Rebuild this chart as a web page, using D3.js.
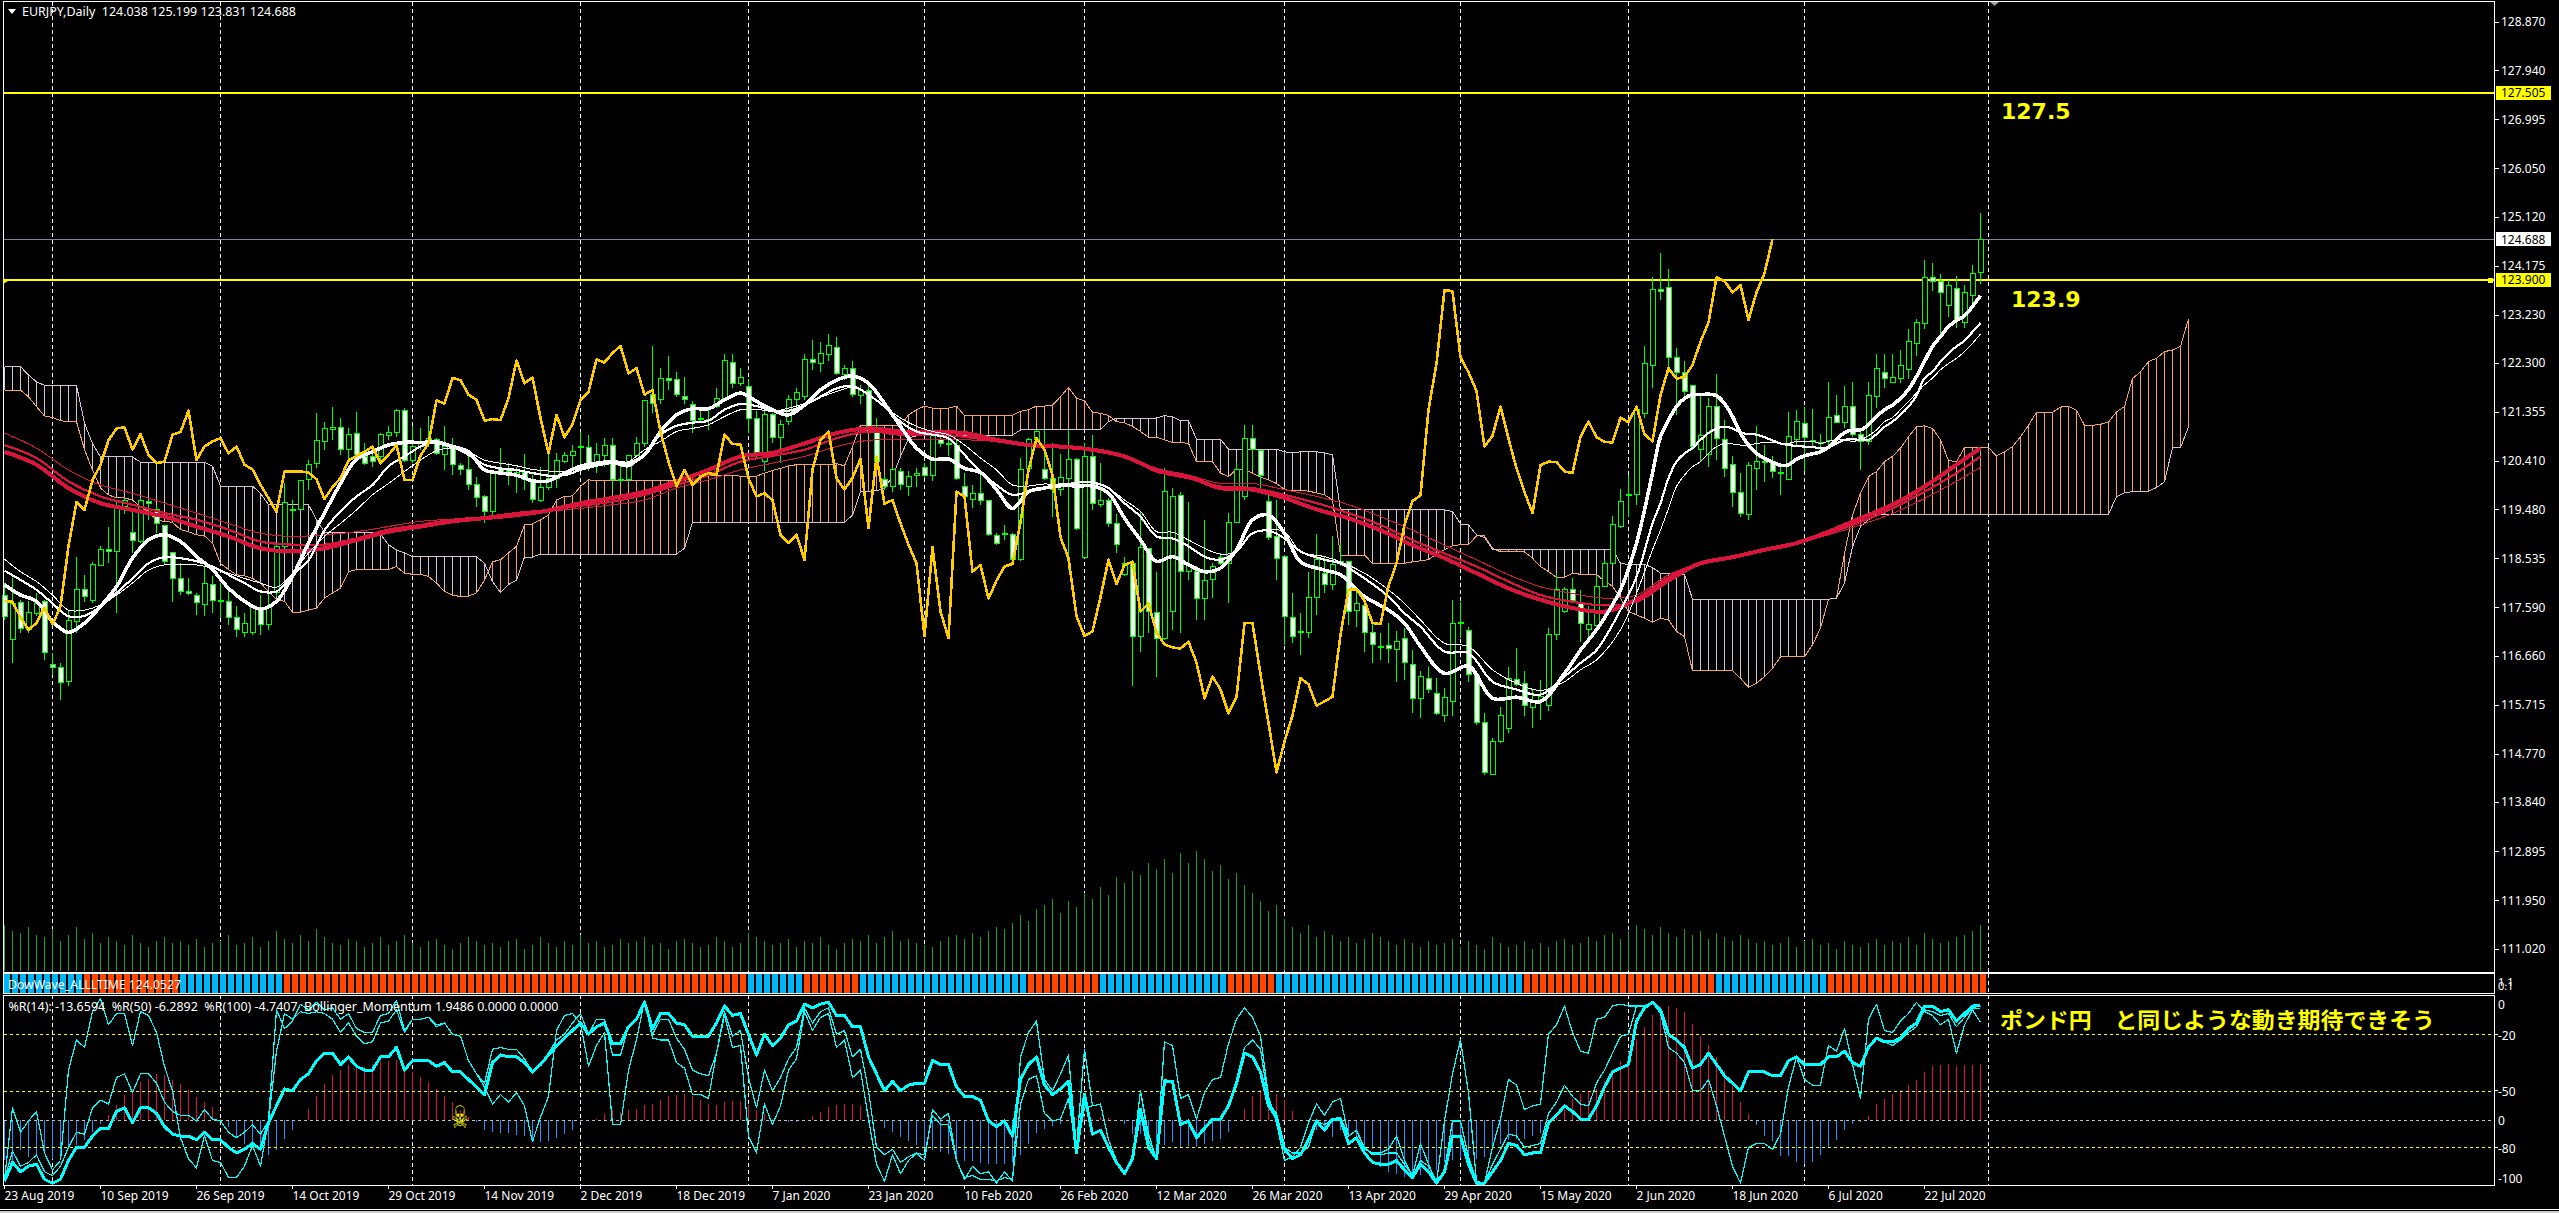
<!DOCTYPE html>
<html><head><meta charset="utf-8">
<script src="https://cdn.jsdelivr.net/npm/d3@7"></script>
<style>html,body{margin:0;padding:0;background:#000;overflow:hidden}svg{display:block}text{white-space:pre}</style>
</head><body><svg id="c" width="2559" height="1213"></svg>
<script>
// ---- candles (one value per trading day)
const opens=[117.83,116.98,117.69,117.16,117.48,117.70,116.50,116.44,116.16,117.32,
117.93,117.72,118.40,118.71,118.67,119.53,119.04,118.86,119.63,119.47,
119.17,118.64,118.15,117.90,117.83,117.65,118.04,117.73,117.70,117.40,
117.11,117.11,117.59,117.26,117.87,118.77,119.48,119.47,120.05,120.37,
120.79,121.02,121.06,120.63,120.95,120.50,120.49,120.50,120.90,120.96,
121.38,120.42,120.69,120.75,120.82,120.53,120.69,120.32,120.25,119.95,
119.73,119.44,120.27,120.27,120.14,120.19,120.05,119.66,119.91,120.08,
120.40,120.51,120.68,120.68,120.37,120.52,120.71,120.03,120.05,120.52,
120.75,121.69,121.59,122.01,121.99,121.65,121.51,121.24,121.22,121.46,
121.62,122.31,121.91,121.85,121.24,120.40,121.30,120.87,121.17,121.59,
121.65,122.37,122.30,122.46,122.60,122.07,122.20,121.67,121.78,120.98,
120.06,119.92,120.21,119.92,120.13,120.29,120.13,120.82,120.75,120.72,
119.93,119.68,119.79,119.65,118.98,119.02,119.00,118.51,120.27,120.82,
120.25,120.08,119.86,120.08,120.45,118.56,120.49,119.57,119.65,119.21,
118.22,118.44,117.04,118.73,117.49,117.00,117.51,119.75,118.28,118.28,
117.76,118.12,118.56,118.44,119.23,119.73,120.85,120.61,119.63,118.96,
118.57,117.40,117.10,117.10,117.79,118.25,118.04,118.44,118.47,117.53,
117.63,117.11,116.84,116.86,116.79,116.99,116.50,115.84,116.23,115.94,
115.51,115.78,117.30,117.14,116.28,115.38,114.38,115.00,115.26,116.21,
116.12,115.67,115.78,115.70,117.07,117.51,117.93,117.68,117.17,117.25,
117.99,118.44,119.15,119.76,119.76,121.33,122.26,123.72,123.76,122.41,
122.12,121.87,120.64,120.53,121.46,120.83,120.35,119.81,119.39,120.27,
120.41,120.40,120.20,120.06,120.83,121.14,120.81,120.74,120.81,121.29,
121.15,121.46,120.92,120.78,121.66,122.12,121.93,122.00,122.17,122.68,
123.07,123.95,123.87,123.41,123.74,123.09,123.61,124.038];
const highs=[118.06,118.15,117.74,117.71,117.87,117.74,116.71,116.52,117.54,118.57,
118.22,118.47,118.77,119.15,119.66,119.70,119.44,119.70,119.66,119.57,
119.18,118.64,118.44,118.15,117.87,118.38,118.19,118.06,117.96,117.61,
117.48,117.61,117.83,117.87,118.80,119.98,119.66,120.05,120.43,121.33,
121.17,121.45,121.25,121.04,121.35,120.75,120.66,120.96,121.08,121.41,
121.43,121.08,121.04,121.28,120.85,121.08,120.85,120.37,120.53,120.11,
119.76,120.24,120.66,120.37,120.30,120.55,120.14,120.30,120.53,120.56,
120.59,120.72,120.98,120.92,120.75,120.85,120.85,120.37,120.53,120.88,
121.59,122.63,122.20,122.44,122.13,122.03,121.56,121.46,121.40,121.81,
122.48,122.48,122.20,121.99,121.37,121.37,121.33,121.20,121.69,121.81,
122.48,122.74,122.70,122.86,122.81,122.26,122.33,121.88,121.85,121.24,
120.14,120.27,120.27,120.21,120.27,120.38,120.95,120.92,120.95,120.82,
120.18,119.95,120.14,119.66,119.02,119.18,119.02,120.47,120.85,121.01,
121.01,120.75,120.55,121.01,120.47,120.75,120.92,120.37,119.69,119.40,
118.57,118.47,119.44,118.73,118.28,120.27,119.89,119.81,119.63,118.38,
119.28,118.44,118.64,119.41,120.37,121.11,121.11,120.63,119.86,119.66,
118.60,117.87,117.48,118.28,119.01,118.57,118.97,118.83,118.47,117.96,
117.67,117.29,117.09,117.29,117.13,117.19,116.77,116.36,116.45,116.23,
116.03,117.74,117.70,117.22,116.29,115.55,115.07,115.68,116.45,116.80,
116.36,116.00,116.19,117.19,118.25,117.99,118.15,117.93,117.61,118.22,
118.51,119.36,119.87,120.14,121.49,122.62,123.96,124.41,124.11,122.58,
122.33,121.87,121.72,121.62,122.09,121.20,120.50,120.18,120.40,121.08,
120.72,120.50,120.31,121.35,121.40,121.46,121.41,120.93,121.93,121.68,
121.86,121.93,121.01,121.93,122.48,122.48,122.48,122.55,122.96,123.14,
124.29,124.23,124.01,123.90,123.98,123.80,124.19,125.199];
const lows=[117.35,116.52,117.09,117.09,117.42,116.57,116.29,115.81,116.07,117.09,
117.70,117.67,118.38,118.44,117.48,119.40,118.64,118.83,119.27,119.02,
118.41,117.70,117.83,117.83,117.45,117.42,117.48,117.38,117.26,117.03,
117.03,117.06,117.06,117.16,117.80,118.73,119.27,119.47,119.86,120.27,
120.63,120.82,120.53,120.43,120.50,120.34,120.30,120.37,120.82,120.88,
120.40,120.37,120.63,120.69,120.53,120.24,120.14,120.14,119.86,119.53,
119.21,119.37,120.14,119.95,119.79,119.86,119.60,119.63,119.86,119.89,
120.37,120.30,120.34,120.21,120.18,120.30,119.86,119.98,119.98,120.50,
120.69,121.33,121.52,121.78,121.65,121.52,120.95,121.17,121.01,121.43,
121.59,121.81,121.85,120.95,120.47,120.21,120.75,120.37,121.11,121.46,
121.59,122.17,122.13,122.33,122.07,121.97,121.65,121.52,120.95,120.37,
119.86,119.82,119.86,119.73,119.92,120.08,120.02,120.69,120.50,120.05,
119.50,119.50,119.57,118.96,118.80,118.89,118.48,118.48,120.24,120.69,
120.05,119.34,119.73,118.32,119.09,118.54,119.47,119.53,119.15,118.64,
118.19,116.07,116.74,117.09,116.26,116.97,117.16,117.09,118.12,117.35,
117.35,117.77,118.41,117.67,119.21,119.66,120.24,119.86,118.89,118.12,
116.87,116.90,116.67,117.00,117.45,117.86,117.93,118.38,117.25,117.22,
116.74,116.52,116.58,116.52,116.16,116.19,115.55,115.46,115.94,115.52,
115.39,115.49,117.00,116.16,115.33,114.37,114.37,114.97,115.17,116.07,
115.49,115.26,115.42,115.60,116.97,117.48,117.70,116.93,116.97,117.09,
117.98,118.41,119.12,119.34,119.57,121.24,121.81,123.51,122.20,121.30,
121.59,120.63,120.40,120.29,120.43,120.11,119.53,119.33,119.28,119.86,
120.00,120.08,119.76,120.05,120.72,120.21,120.69,120.63,120.69,121.14,
121.04,120.87,120.24,120.72,121.43,121.81,121.91,121.91,122.00,122.44,
122.96,123.68,122.84,123.19,122.97,122.97,123.39,123.831];
const closes=[117.42,117.67,117.19,117.50,117.67,116.73,116.44,116.15,117.33,117.93,
117.80,118.41,118.71,118.66,119.53,119.66,118.89,119.66,119.59,119.20,
118.48,118.15,117.90,117.86,117.69,118.05,117.72,117.70,117.40,117.16,
117.29,117.59,117.26,117.61,118.77,119.62,119.47,120.04,120.34,120.81,
121.04,121.06,120.63,120.93,120.53,120.37,120.40,120.92,120.97,121.38,
120.43,120.69,120.79,120.85,120.56,120.69,120.34,120.25,119.95,119.70,
119.43,120.21,120.21,120.21,120.19,120.06,119.68,119.91,120.08,120.42,
120.51,120.59,120.69,120.37,120.53,120.72,120.05,120.05,120.52,120.75,
121.58,121.52,122.01,121.97,121.69,121.59,121.19,121.22,121.20,121.62,
122.35,121.91,122.02,121.24,120.56,121.30,120.87,121.12,121.59,121.74,
122.37,122.31,122.49,122.63,122.10,122.20,121.69,121.78,120.98,120.40,
119.93,120.24,119.95,120.11,120.18,120.14,120.92,120.74,120.73,120.08,
119.73,119.79,119.66,118.99,118.83,118.99,118.51,120.25,120.82,120.98,
120.08,119.86,120.09,120.45,119.12,120.50,119.59,119.66,119.21,118.80,
118.44,117.04,118.75,117.51,117.00,119.82,119.73,118.28,118.41,117.76,
118.11,118.38,118.43,119.23,120.24,120.85,120.63,120.14,118.94,118.54,
117.42,117.04,117.13,117.79,118.51,118.04,118.41,118.47,117.51,117.67,
117.11,116.88,116.82,116.80,116.93,116.53,115.84,116.26,116.01,115.55,
115.86,117.29,117.29,116.30,115.37,114.41,115.01,115.51,116.23,116.11,
115.70,115.78,115.87,117.07,117.93,117.94,117.72,117.29,117.27,118.00,
118.44,119.18,119.64,119.75,121.40,122.29,123.71,123.68,122.41,122.12,
121.76,120.69,120.90,121.46,120.84,120.27,119.81,119.41,120.33,120.40,
120.39,120.21,120.18,120.88,121.17,120.87,120.78,120.77,121.25,121.16,
121.46,120.93,120.79,121.68,122.20,122.00,122.03,122.26,122.71,123.08,
123.95,123.88,123.66,123.80,123.13,123.66,124.03,124.688];

// ---- tick volume estimate per day
const volumes=[46,40,38,44,36,34,42,30,36,44,32,38,28,34,30,26,36,28,24,30,
34,28,30,26,32,24,28,30,36,26,28,34,24,30,40,32,28,36,30,42,
34,28,26,32,30,24,28,34,26,30,36,28,24,30,32,26,22,28,34,30,
26,28,24,30,32,22,26,34,28,24,30,26,36,28,30,24,26,32,28,30,
34,26,28,22,30,32,28,24,26,34,30,24,28,38,34,30,26,28,32,24,
30,28,34,26,22,28,32,30,36,28,34,40,30,32,28,26,24,30,34,36,
32,38,34,40,44,42,48,56,50,62,66,72,58,70,64,78,72,84,76,94,
88,100,96,108,102,112,98,118,108,120,112,100,106,92,98,86,78,70,60,66,
52,44,38,46,34,40,36,30,34,28,32,38,34,30,26,32,28,24,30,26,
28,32,24,30,26,22,34,28,24,26,30,22,28,24,30,32,26,28,34,30,
36,38,32,40,46,42,36,44,38,34,42,36,40,32,38,34,30,36,32,28,
30,26,28,34,24,30,32,26,28,22,30,26,24,28,32,26,30,28,34,26,
38,32,28,30,34,36,40,46];

// ---- moving averages (bars at which each was read)
const maBars=[0,2,4,6,8,10,12,14,16,18,20,22,24,26,28,30,32,34,36,38,40,42,44,46,48,50,52,54,56,58,60,62,64,66,68,70,72,74,76,78,80,
82,84,86,88,90,92,94,96,98,100,102,104,106,108,110,112,114,116,118,120,122,124,126,128,130,132,134,136,138,140,142,144,146,148,150,152,154,156,158,160,
162,165,167,170,173,175,177,180,183,186,189,192,195,197,199,202,204,206,
207,208,209,210,211,212,213,214,215,216,217,218,219,220,221,222,223,224,225,226,227,228,229,230,231,232,233,234,235,236,237,238,239,240,241,242,243,244,245,246,247];
const maFast=[118.03,117.83,117.71,117.32,117.11,117.29,117.61,117.99,118.54,118.89,118.99,118.86,118.57,118.32,117.96,117.71,117.56,117.71,118.19,118.83,119.41,119.98,120.45,120.59,120.72,120.77,120.77,120.77,120.69,120.59,120.24,120.18,120.14,120.03,120.03,120.18,120.31,120.37,120.40,120.37,120.53,
120.98,121.30,121.42,121.42,121.59,121.72,121.56,121.40,121.30,121.49,121.78,121.97,122.05,121.91,121.52,121.08,120.66,120.45,120.45,120.27,120.19,119.86,119.50,119.82,119.89,119.95,119.93,119.93,119.79,119.31,118.89,118.48,118.57,118.41,118.28,118.35,118.70,119.28,119.37,119.02,
118.47,118.31,118.22,117.80,117.54,117.29,116.84,116.32,116.46,115.84,115.86,115.78,116.32,116.77,117.16,117.93,118.83,120.18,
120.88,121.20,121.46,121.62,121.69,121.69,121.70,121.67,121.52,121.27,120.95,120.72,120.56,120.46,120.39,120.33,120.34,120.45,120.51,120.55,120.59,120.68,120.82,120.96,121.01,121.01,121.11,121.27,121.40,121.49,121.62,121.79,122.04,122.33,122.62,122.81,123.00,123.12,123.21,123.39,123.60];
const maMid=[118.30,118.12,117.93,117.67,117.42,117.43,117.61,117.87,118.15,118.44,118.56,118.54,118.48,118.38,118.22,118.06,117.90,117.90,118.22,118.50,119.08,119.44,119.73,119.95,120.31,120.50,120.69,120.79,120.69,120.53,120.34,120.27,120.24,120.18,120.13,120.14,120.24,120.32,120.37,120.31,120.56,
120.92,121.09,121.15,121.19,121.40,121.51,121.47,121.38,121.38,121.49,121.65,121.81,121.86,121.69,121.46,121.17,120.98,120.92,120.85,120.53,120.21,119.95,119.76,119.82,119.89,119.92,120.00,120.00,119.89,119.60,119.34,118.96,118.92,118.77,118.57,118.51,118.67,119.02,119.07,118.92,
118.67,118.51,118.44,118.15,117.80,117.48,117.22,116.74,116.71,116.16,116.01,115.91,116.26,116.52,116.77,117.54,118.18,119.21,
119.60,120.08,120.40,120.56,120.66,120.82,120.95,121.04,121.07,121.04,120.96,120.93,120.92,120.87,120.81,120.75,120.72,120.70,120.69,120.68,120.66,120.68,120.75,120.82,120.83,120.82,120.82,120.93,121.07,121.17,121.30,121.46,121.67,122.01,122.13,122.33,122.49,122.62,122.73,122.90,123.07];
const maSlow=[118.52,118.28,118.09,117.83,117.54,117.54,117.64,117.83,118.06,118.31,118.41,118.42,118.41,118.35,118.25,118.15,118.06,117.98,118.25,118.64,118.96,119.21,119.47,119.76,119.98,120.21,120.43,120.61,120.66,120.59,120.43,120.37,120.32,120.25,120.22,120.21,120.27,120.34,120.37,120.40,120.63,
120.79,120.98,121.04,121.11,121.27,121.40,121.41,121.37,121.43,121.52,121.64,121.75,121.83,121.69,121.46,121.24,121.08,120.98,120.92,120.72,120.47,120.24,119.95,119.93,119.97,119.95,120.00,120.00,119.89,119.66,119.44,119.05,119.04,118.89,118.73,118.62,118.67,119.02,119.09,119.05,
118.67,118.57,118.47,118.25,117.93,117.67,117.35,116.90,116.84,116.39,116.13,115.99,116.16,116.39,116.58,117.16,117.86,118.70,
119.08,119.50,119.92,120.14,120.30,120.40,120.56,120.69,120.75,120.74,120.72,120.72,120.75,120.77,120.77,120.75,120.75,120.79,120.79,120.79,120.75,120.79,120.82,120.82,120.79,120.82,120.90,121.01,121.17,121.25,121.40,121.56,121.72,121.88,122.01,122.17,122.29,122.39,122.52,122.68,122.86];

const redBars=[0,4,8,12,16,20,24,28,32,36,40,44,48,52,56,60,64,68,72,76,80,84,88,92,96,100,104,108,112,116,120,124,128,132,136,140,144,148,152,156,160,164,168,172,176,180,184,188,192,196,200,204,208,212,216,220,224,228,232,236,240,244,247];
const redThick=[120.59,120.34,119.89,119.60,119.47,119.34,119.15,118.96,118.73,118.67,118.73,118.89,119.05,119.15,119.25,119.31,119.37,119.46,119.60,119.70,119.82,120.02,120.24,120.50,120.57,120.75,120.95,121.04,120.98,120.97,120.95,120.82,120.72,120.69,120.63,120.50,120.24,120.11,119.89,119.86,119.70,119.48,119.31,119.08,118.79,118.54,118.25,117.96,117.74,117.58,117.51,117.74,118.15,118.44,118.56,118.70,118.83,119.05,119.31,119.57,119.92,120.34,120.66];
const redMid=[120.72,120.47,120.02,119.73,119.57,119.41,119.28,119.09,118.86,118.80,118.80,118.92,119.09,119.18,119.28,119.33,119.41,119.47,119.55,119.63,119.76,119.95,120.14,120.40,120.51,120.63,120.85,120.98,120.92,120.92,120.88,120.79,120.72,120.69,120.61,120.49,120.21,120.08,119.92,119.89,119.76,119.60,119.41,119.18,118.89,118.63,118.38,118.09,117.83,117.70,117.63,117.70,118.09,118.43,118.56,118.70,118.83,119.02,119.24,119.50,119.82,120.18,120.50];
const redThin=[120.95,120.66,120.24,119.95,119.79,119.60,119.41,119.21,119.02,118.96,118.99,119.05,119.15,119.25,119.29,119.31,119.37,119.44,119.50,119.57,119.66,119.89,120.05,120.24,120.37,120.50,120.69,120.81,120.82,120.82,120.82,120.79,120.72,120.69,120.61,120.49,120.27,120.14,119.98,119.98,119.86,119.73,119.57,119.34,119.08,118.79,118.51,118.22,117.99,117.86,117.77,117.83,118.22,118.44,118.56,118.70,118.83,118.99,119.18,119.40,119.69,120.02,120.29];

// ---- Ichimoku cloud spans, 26 bars further than the candles
const senkouA=[121.78,121.78,121.78,121.65,121.46,121.28,121.25,121.19,121.17,121.17,
120.63,120.24,119.89,119.76,119.70,119.70,119.66,119.53,119.44,119.27,
119.25,119.23,119.09,119.05,118.99,118.97,118.83,118.44,118.32,118.22,
118.20,118.15,118.06,117.90,117.74,117.71,117.50,117.50,117.54,117.58,
117.77,117.87,117.96,118.28,118.32,118.32,118.32,118.32,118.32,118.38,
118.25,118.23,118.23,118.19,118.06,117.90,117.83,117.80,117.81,117.87,
118.12,118.47,118.51,118.64,118.77,119.18,119.20,119.28,119.37,119.66,
119.73,119.74,119.92,120.05,120.03,120.03,120.03,120.03,120.03,120.03,
120.03,120.03,120.03,120.03,120.03,120.03,120.14,120.14,120.14,120.14,
120.14,120.14,120.12,120.12,120.12,120.18,120.23,120.27,120.32,120.34,
120.34,120.34,120.34,120.34,120.36,120.32,120.69,121.10,121.10,121.10,
121.10,121.10,121.10,121.30,121.40,121.47,121.43,121.43,121.43,121.47,
121.29,121.29,121.29,121.29,121.29,121.29,121.29,121.37,121.40,121.47,
121.47,121.49,121.65,121.83,121.62,121.57,121.35,121.33,121.29,121.17,
121.15,121.08,120.98,120.87,120.87,120.82,120.77,120.77,120.75,120.40,
120.40,120.40,120.18,120.11,120.25,120.25,120.18,120.10,120.05,119.98,
119.86,119.84,119.85,119.83,119.80,119.76,119.66,118.60,118.60,118.60,
118.60,118.44,118.44,118.44,118.44,118.44,118.47,118.49,118.51,118.62,
118.70,118.78,118.80,118.80,118.97,118.97,118.73,118.66,118.66,118.66,
118.66,118.54,118.38,118.28,118.17,118.17,118.25,118.23,118.23,118.23,
118.09,118.00,117.77,117.51,117.45,117.38,117.31,117.38,117.35,117.13,
117.03,116.37,116.37,116.37,116.37,116.37,116.37,116.23,116.05,116.13,
116.26,116.42,116.64,116.64,116.64,116.64,116.87,117.19,117.75,117.77,
118.63,119.37,119.79,120.11,120.21,120.40,120.50,120.66,120.88,121.07,
121.09,121.04,120.82,120.42,120.40,120.67,120.67,120.67,120.67,120.51,
120.59,120.69,120.88,121.10,121.35,121.35,121.35,121.45,121.47,121.39,
121.10,121.10,121.12,121.16,121.36,121.46,122.00,122.13,122.33,122.39,
122.52,122.55,122.62,123.15];
const senkouB=[122.23,122.23,122.23,122.07,121.94,121.87,121.87,121.87,121.87,121.87,
121.14,120.75,120.49,120.49,120.49,120.49,120.49,120.39,120.39,120.39,
120.39,120.39,120.39,120.39,120.39,120.39,120.31,119.93,119.93,119.93,
119.93,119.93,119.79,119.57,119.57,119.57,119.57,119.57,119.57,119.28,
119.04,119.04,119.04,119.04,119.04,119.04,119.04,119.00,118.80,118.70,
118.64,118.57,118.57,118.57,118.57,118.57,118.57,118.57,118.57,118.57,
118.44,118.09,117.88,118.03,118.12,118.56,118.56,118.62,118.62,118.62,
118.62,118.62,118.62,118.62,118.62,118.62,118.62,118.62,118.62,118.62,
118.62,118.62,118.62,118.62,118.62,118.73,119.23,119.23,119.23,119.23,
119.23,119.23,119.23,119.23,119.23,119.23,119.23,119.23,119.23,119.23,
119.23,119.23,119.23,119.23,119.23,119.23,119.37,119.82,119.82,119.84,
119.89,120.11,120.50,120.85,120.90,120.91,120.91,120.91,120.91,120.91,
120.91,120.91,120.91,120.91,120.91,120.91,120.91,121.01,121.01,121.02,
121.02,121.02,121.02,121.02,121.02,121.02,121.02,121.02,121.17,121.24,
121.24,121.24,121.24,121.24,121.24,121.29,121.26,121.19,121.19,120.83,
120.83,120.83,120.83,120.64,120.64,120.64,120.64,120.64,120.64,120.64,
120.59,120.57,120.59,120.59,120.59,120.57,120.53,119.47,119.47,119.47,
119.47,119.47,119.47,119.47,119.47,119.47,119.47,119.47,119.47,119.47,
119.47,119.44,119.20,119.18,118.99,118.94,118.71,118.71,118.71,118.71,
118.71,118.71,118.71,118.71,118.71,118.71,118.71,118.71,118.71,118.71,
118.71,118.71,118.44,118.42,118.42,118.42,118.36,118.25,118.25,118.25,
118.23,117.75,117.75,117.75,117.75,117.75,117.75,117.75,117.75,117.75,
117.75,117.75,117.75,117.75,117.75,117.75,117.75,117.75,117.75,117.77,
118.06,118.76,119.15,119.28,119.39,119.39,119.39,119.39,119.39,119.39,
119.39,119.39,119.39,119.39,119.39,119.39,119.39,119.39,119.39,119.39,
119.39,119.39,119.39,119.39,119.39,119.39,119.39,119.39,119.39,119.39,
119.39,119.39,119.39,119.39,119.72,119.80,119.82,119.82,119.83,119.90,
120.01,120.67,120.67,121.07];

// ---- DowWave strip: [state, number of bars]
const waveRuns=[["up",10],["down",12],["up",13],["down",58],["up",7],["down",7],["up",21],["down",9],["up",16],["down",6],["up",31],["down",24],["up",14],["down",20]];

// ---- Williams %R
const wpr100=[-98,-88,-93,-90,-89,-97,-99,-97,-87,-80,-80,-74,-70,-70,-61,-59,-67,-59,-59,-62,
-69,-73,-74,-74,-76,-72,-76,-76,-80,-83,-81,-78,-81,-67,-58,-49,-50,-44,-41,-34,
-30,-30,-36,-32,-37,-39,-39,-32,-32,-27,-39,-34,-34,-34,-37,-35,-40,-40,-44,-48,
-52,-35,-31,-32,-32,-35,-40,-36,-31,-26,-22,-18,-14,-20,-16,-14,-25,-25,-16,-12,-3,-17,
-9,-9,-14,-15,-21,-21,-21,-14,-5,-10,-9,-20,-31,-20,-26,-22,-15,-13,-4,-6,
-4,-3,-10,-10,-16,-16,-32,-41,-50,-45,-50,-47,-46,-46,-34,-36,-36,-48,-53,-53,
-55,-66,-69,-66,-74,-44,-36,-32,-47,-52,-49,-45,-83,-52,-73,-71,-80,-88,-94,-86,
-60,-80,-86,-45,-45,-68,-66,-75,-70,-65,-65,-58,-46,-30,-32,-40,-58,-64,-81,-86,
-84,-76,-66,
-71,-65,-65,-78,-75,-83,-88,-89,-89,-87,-92,-96,-89,-93,-99,-93,-74,-74,-89,-99,
-99,-93,-87,-78,-79,-84,-83,-83,-67,-63,-58,-61,-65,-65,-58,-48,-40,-38,-36,-13,
-6,-3,-7,-20,-23,-27,-38,-36,-30,-36,-42,-46,-50,-40,-40,-40,-42,-42,-34,-32,
-36,-36,-36,-32,-32,-29,-35,-37,-27,-22,-24,-24,-22,-17,-14,-5,-5,-8,-7,-13,-9,-5,-4.74];
const wpr50=[-97,-82,-90,-88,-84,-93,-95,-90,-80,-72,-73,-59,-55,-57,-43,-41,-51,-41,-41,-46,
-56,-61,-63,-63,-66,-60,-65,-66,-72,-75,-72,-68,-73,-66,-29,-9,-12,-8,-9,-8,
-9,-12,-19,-14,-21,-25,-24,-14,-13,-7,-19,-12,-12,-11,-15,-14,-20,-21,-34,-41,
-46,-28,-27,-28,-28,-33,-40,-36,-30,-23,-20,-14,-9,-20,-12,-12,-31,-31,-16,-12,-2,-20,
-12,-12,-22,-28,-39,-41,-42,-30,-8,-21,-18,-43,-59,-39,-50,-43,-33,-27,-6,-14,
-8,-6,-20,-18,-32,-28,-50,-80,-84,-81,-88,-85,-83,-84,-63,-68,-68,-87,-96,-95,
-97,-97,-98,-96,-97,-57,-44,-42,-62,-66,-65,-54,-83,-59,-58,-57,-76,-87,-94,-86,
-50,-76,-86,-44,-45,-67,-66,-74,-69,-65,-65,-57,-44,-27,-23,-28,-56,-62,-80,-83,
-83,-80,-66,
-68,-65,-64,-74,-71,-80,-84,-84,-83,-83,-89,-95,-87,-90,-98,-92,-66,-66,-85,-98,
-99,-89,-81,-73,-74,-80,-79,-78,-62,-56,-47,-53,-57,-58,-46,-39,-30,-21,-20,-5,
-5,-3,-7,-20,-23,-27,-38,-36,-30,-36,-42,-46,-50,-40,-40,-40,-42,-42,-34,-32,
-36,-36,-36,-32,-32,-29,-35,-37,-27,-22,-24,-26,-23,-19,-16,-7,-8,-10,-9,-16,-11,-6,-6.29];
const wpr14=[-97,-59,-72,-66,-61,-83,-92,-87,-39,-23,-27,-8,-1,-15,-9,-9,-26,-8,-10,-19,
-37,-50,-75,-86,-91,-74,-87,-88,-96,-96,-90,-79,-90,-65,-7,-17,-13,-4,-7,-3,
-7,-6,-12,-9,-17,-19,-19,-10,-9,-2,-18,-12,-12,-11,-16,-14,-20,-21,-34,-41,
-48,-57,-52,-56,-51,-58,-77,-64,-53,-18,-10,-9,-14,-37,-26,-19,-68,-68,-39,-23,-2,-22,
-23,-23,-35,-38,-52,-52,-54,-30,-10,-27,-26,-74,-83,-57,-68,-58,-39,-33,-8,-18,
-11,-9,-27,-23,-43,-39,-65,-89,-98,-84,-94,-87,-83,-87,-60,-65,-62,-87,-97,-90,
-94,-93,-99,-93,-98,-32,-19,-13,-44,-50,-41,-31,-80,-28,-58,-57,-76,-87,-94,-85,
-50,-73,-86,-24,-26,-54,-52,-65,-51,-44,-43,-25,-12,-6,-11,-21,-53,-67,-87,-85,
-80,-67,-57,
-63,-56,-54,-74,-71,-81,-83,-83,-81,-74,-87,-95,-78,-89,-99,-66,-41,-23,-51,-98,
-99,-80,-65,-44,-47,-60,-58,-57,-20,-15,-5,-19,-29,-30,-12,-11,-5,-4,-5,-5,
-5,-3,-9,-27,-30,-35,-50,-50,-44,-58,-74,-90,-99,-80,-78,-78,-81,-73,-48,-32,
-44,-47,-47,-26,-29,-17,-36,-54,-12,-4,-18,-19,-13,-9,-3,-8,-10,-15,-12,-30,-15,-7,-13.66];
// Bollinger momentum histogram
const momentum=[-1.37,-1.49,-1.03,-1.26,-1.15,-1.03,-1.32,-1.15,-.92,-.86,-.69,-.40,-.14,.17,.52,.86,1.09,1.32,1.43,1.60,
1.55,1.40,1.24,1.03,.80,.63,.44,.06,-.23,-.57,-.80,-.92,-1.03,-1.20,-1.01,-.63,-.34,0,.40,.82,
1.24,1.55,1.72,1.89,1.95,1.83,1.95,2.04,2.04,2.06,1.89,1.66,1.49,1.32,1.09,.82,.63,.34,.11,-.07,
-.34,-.40,-.44,-.44,-.52,-.55,-.69,-.74,-.71,-.60,-.48,-.34,-.06,-.02,.03,.21,.34,.29,.34,.40,.52,.55,
.69,.82,.86,.92,.82,.69,.57,.52,.63,.65,.65,.52,.34,.21,.03,0,-.07,-.07,.02,.14,
.29,.46,.52,.57,.55,.48,.29,0,-.25,-.40,-.57,-.71,-.86,-.97,-1.03,-1.09,-1.15,-1.32,-1.40,-1.40,
-1.47,-1.49,-1.49,-1.49,-1.43,-1.20,-.80,-.44,-.29,-.21,-.11,-.02,.09,.14,.06,.11,.07,0,-.11,-.46,
-.46,-.69,-.74,-.86,-.74,-.92,-.89,-.92,-.80,-.71,-.63,-.40,0,.40,.82,1.05,1.09,.89,.69,.32,
-.03,-.06,-.34,
-.34,-.57,-.34,-.57,-.63,-.86,-.97,-1.60,-1.78,-1.83,-1.95,-1.95,-1.89,-1.72,-1.72,-1.43,-1.37,-1.28,-1.32,-1.32,
-1.26,-.92,-.80,-.69,-.63,-.63,-.55,-.44,0,.14,.57,.74,.89,1.01,1.09,1.35,1.60,2.04,2.35,2.81,
3.21,3.61,3.92,3.92,3.87,3.72,3.30,2.89,2.58,2.18,1.70,1.20,.63,.21,-.17,-.55,-.71,-1.24,-1.24,-1.43,
-1.49,-1.43,-1.20,-.92,-.66,-.32,-.14,-.05,.14,.55,.74,.92,1.05,1.20,1.37,1.66,1.86,1.91,1.95,1.86,1.89,1.89,1.95];

// ---- ticks and labels
const priceTicks=[128.87,127.94,126.995,126.05,125.12,124.175,123.23,122.3,121.355,120.41,119.48,118.535,117.59,116.66,115.715,114.77,113.84,112.895,111.95,111.02];
const dateLabels=["23 Aug 2019","10 Sep 2019","26 Sep 2019","14 Oct 2019","29 Oct 2019","14 Nov 2019","2 Dec 2019","18 Dec 2019","7 Jan 2020","23 Jan 2020","10 Feb 2020","26 Feb 2020","12 Mar 2020","26 Mar 2020","13 Apr 2020","29 Apr 2020","15 May 2020","2 Jun 2020","18 Jun 2020","6 Jul 2020","22 Jul 2020"];
const dateLabelBars=[0,12,24,36,48,60,72,84,96,108,120,132,144,156,168,180,192,204,216,228,240];
const monthBreakBars=[6,27,51,72,93,115,135,160,182,203,225,248];
const supportResistance=[127.505,123.9];
const lastClose=124.688;
const wprLevels=[-20,-50,-80];
const titleText="EURJPY,Daily  124.038 125.199 123.831 124.688";
const waveText="DowWave_ALLLTIME 124.0527";
const wprText="%R(14): -13.6594  %R(50) -6.2892  %R(100) -4.7407  Bollinger_Momentum 1.9486 0.0000 0.0000";
const noteText="ポンド円　と同じような動き期待できそう";

// ---- layout
const L=3.5,R=2494,T=1.5,MB=972,S0=974,S1=993,W0=995,W1=1185;
const x=d3.scaleLinear().domain([0,248]).range([4,1988]);
const y=d3.scaleLinear().domain([111.02,128.87]).range([948.5,22]);
const yVol=d3.scaleLinear().domain([0,120]).range([971,851]);
const yW=d3.scaleLinear().domain([-100,0]).range([1185,996.6]);
const yM=d3.scaleLinear().domain([0,1]).range([1120.3,1091.2]);
const svg=d3.select("#c");
const UI="'Noto Sans',sans-serif";
svg.append("rect").attr("width",2559).attr("height",1213).attr("fill","#000");
const crisp=s=>s.attr("shape-rendering","crispEdges");

// month separators
for(const [a,b] of [[T,MB],[S0,S1],[W0,W1]]){
  crisp(svg.append("g").selectAll("line").data(monthBreakBars).join("line")
   .attr("x1",d=>x(d)+.5).attr("x2",d=>x(d)+.5).attr("y1",a).attr("y2",b)
   .attr("stroke","#fff").attr("stroke-dasharray","4 3"));
}
// horizontal levels
crisp(svg.append("line").attr("x1",L).attr("x2",R).attr("y1",Math.round(y(lastClose))+.5).attr("y2",Math.round(y(lastClose))+.5).attr("stroke","#778899"));
crisp(svg.append("g").selectAll("line").data(supportResistance).join("line")
  .attr("x1",L).attr("x2",R).attr("y1",d=>Math.round(y(d))).attr("y2",d=>Math.round(y(d)))
  .attr("stroke","#ffff00").attr("stroke-width",2));

// volumes
crisp(svg.append("g").selectAll("line").data(volumes).join("line")
  .attr("x1",(d,i)=>x(i)+.5).attr("x2",(d,i)=>x(i)+.5).attr("y1",yVol(0)).attr("y2",d=>yVol(d))
  .attr("stroke","#24a024"));

// cloud
const spanBars=d3.range(senkouA.length);
crisp(svg.append("g").selectAll("line").data(spanBars).join("line")
  .attr("x1",i=>x(i)+.5).attr("x2",i=>x(i)+.5).attr("y1",i=>y(senkouA[i])).attr("y2",i=>y(senkouB[i]))
  .attr("stroke",i=>senkouA[i]>=senkouB[i]?"#f4a460":"#d8bfd8"));
const lineOf=(bars,vals,scale,curve)=>d3.line().x((d,i)=>x(bars[i])+.5).y((d,i)=>scale(vals[i])).curve(curve||d3.curveLinear)(bars);
const drawLine=(bars,vals,scale,col,w,curve)=>crisp(svg.append("path").attr("d",lineOf(bars,vals,scale,curve)).attr("fill","none").attr("stroke",col).attr("stroke-width",w).attr("stroke-linejoin","round"));
drawLine(spanBars,senkouA,y,"#f4a460",1);
drawLine(spanBars,senkouB,y,"#d8bfd8",1);

// candles
const bars=d3.range(closes.length);
crisp(svg.append("g").selectAll("line").data(bars).join("line")
  .attr("x1",i=>x(i)+.5).attr("x2",i=>x(i)+.5).attr("y1",i=>y(highs[i])).attr("y2",i=>y(lows[i]))
  .attr("stroke","#00ff00"));
crisp(svg.append("g").selectAll("rect").data(bars).join("rect")
  .attr("x",i=>x(i)-2).attr("width",5)
  .attr("y",i=>y(Math.max(opens[i],closes[i])))
  .attr("height",i=>Math.max(1,Math.abs(y(opens[i])-y(closes[i]))))
  .attr("fill",i=>closes[i]>=opens[i]?"#000":"#fff").attr("stroke","#00ff00"));

// moving averages
const smooth=d3.curveCatmullRom;
drawLine(redBars,redThin,y,"#dc143c",1,smooth);
drawLine(redBars,redMid,y,"#dc143c",2.2,smooth);
drawLine(redBars,redThick,y,"#dc143c",4,smooth);
drawLine(maBars,maSlow,y,"#fff",1,smooth);
drawLine(maBars,maMid,y,"#fff",2.2,smooth);
drawLine(maBars,maFast,y,"#fff",3.6,smooth);
// lagging span: the closes shown 26 bars earlier
const chikouBars=d3.range(closes.length-26);
drawLine(chikouBars,closes.slice(26),y,"#ffcc00",2.6);

// DowWave strip
const waveColor={up:"#00b4f5",down:"#ff4500"};
const waveStates=waveRuns.flatMap(([s,n])=>d3.range(n).map(()=>s));
crisp(svg.append("g").selectAll("rect").data(waveStates).join("rect")
  .attr("x",(d,i)=>x(i)).attr("width",6).attr("y",S0).attr("height",S1-S0).attr("fill",d=>waveColor[d]));

// %R pane
crisp(svg.append("g").selectAll("line").data(momentum).join("line")
  .attr("x1",(d,i)=>x(i)+.5).attr("x2",(d,i)=>x(i)+.5).attr("y1",yM(0)).attr("y2",d=>yM(d))
  .attr("stroke",d=>d>=0?"#dc143c":"#1e90ff"));
crisp(svg.append("g").selectAll("line").data(wprLevels).join("line")
  .attr("x1",L).attr("x2",R).attr("y1",d=>Math.round(yW(d))).attr("y2",d=>Math.round(yW(d)))
  .attr("stroke","#ffff00").attr("stroke-dasharray","3 3"));
crisp(svg.append("line").attr("x1",L).attr("x2",R).attr("y1",Math.round(yM(0))).attr("y2",Math.round(yM(0)))
  .attr("stroke","#c0c0c0").attr("stroke-dasharray","3 3"));
drawLine(bars,wpr14,yW,"#00ffff",1.2);
drawLine(bars,wpr50,yW,"#00ffff",1.2);
drawLine(bars,wpr100,yW,"#00ffff",3);
svg.append("text").text("\u2620").attr("transform","translate(460,1128) scale(.72,1.2)").attr("text-anchor","middle")
  .attr("font-family","'DejaVu Sans'").attr("font-size",26).attr("fill","#ffff00");

// frames
const frame=(a,b)=>crisp(svg.append("rect").attr("x",L).attr("y",a).attr("width",R-L).attr("height",b-a).attr("fill","none").attr("stroke","#fff"));
frame(T,MB);frame(S0-1,S1);frame(W0,W1);
crisp(svg.append("line").attr("x1",0).attr("x2",2559).attr("y1",1209.5).attr("y2",1209.5).attr("stroke","#fff"));
crisp(svg.append("line").attr("x1",0).attr("x2",2559).attr("y1",1212).attr("y2",1212).attr("stroke","#d0d0d0").attr("stroke-width",2));

// price axis
const gp=svg.append("g").attr("transform",`translate(${R},0)`)
  .call(d3.axisRight(y).tickValues(priceTicks).tickFormat(d3.format(".3f")).tickSize(5).tickPadding(2));
gp.select(".domain").remove();
gp.selectAll("line").attr("stroke","#fff").attr("shape-rendering","crispEdges");
gp.selectAll("text").attr("fill","#fff").attr("font-family",UI).attr("font-size",12);

// price tags
const tag=(v,bg)=>{const yy=y(v);
  crisp(svg.append("rect").attr("x",R+2).attr("y",yy-7).attr("width",55).attr("height",14).attr("fill",bg));
  svg.append("text").text(d3.format(".3f")(v)).attr("x",R+7).attr("y",yy+4.5).attr("fill","#000").attr("font-family",UI).attr("font-size",12);};
tag(127.505,"#ffff00");tag(lastClose,"#ffffff");tag(123.9,"#ffff00");
crisp(svg.append("rect").attr("x",2488).attr("y",y(123.9)-2).attr("width",5).attr("height",5).attr("fill","#ffff00"));
svg.append("path").attr("d","M3 278L8 281L3 284Z").attr("fill","#ffff00");
svg.append("path").attr("d","M1990 2L1999 2L1994.5 6Z").attr("fill","#a0a0a0");
svg.append("path").attr("d","M8 9L16 9L12 14Z").attr("fill","#fff");

// x axis
const gx=svg.append("g").attr("transform",`translate(0,${W1})`)
  .call(d3.axisBottom(x).tickValues(dateLabelBars).tickFormat((d,i)=>dateLabels[i]).tickSize(4).tickPadding(2));
gx.select(".domain").remove();
gx.selectAll("line").attr("stroke","#fff").attr("shape-rendering","crispEdges");
gx.selectAll("text").attr("fill","#fff").attr("font-family",UI).attr("font-size",12).attr("text-anchor","start").attr("dx",0);

// %R axis labels
const wprAxisLabels=[["0",1004],["-20",1035],["-50",1091],["0",1120.5],["-80",1148],["-100",1178]];
svg.append("g").selectAll("text").data(wprAxisLabels).join("text").text(d=>d[0])
  .attr("x",2498).attr("y",d=>d[1]+4.5).attr("fill","#fff").attr("font-family",UI).attr("font-size",12);
crisp(svg.append("g").selectAll("line").data([-20,-50,-80]).join("line").attr("x1",R).attr("x2",R+4).attr("y1",d=>yW(d)).attr("y2",d=>yW(d)).attr("stroke","#fff"));
svg.append("text").text("1.1").attr("x",2498).attr("y",986).attr("fill","#fff").attr("font-family",UI).attr("font-size",11);
svg.append("text").text("0.1").attr("x",2498).attr("y",990).attr("fill","#fff").attr("font-family",UI).attr("font-size",11);

// captions
const cap=(t,xx,yy,len)=>svg.append("text").text(t).attr("x",xx).attr("y",yy).attr("fill","#fff").attr("font-family",UI).attr("font-size",12)
  .attr("textLength",len).attr("lengthAdjust","spacingAndGlyphs");
cap(titleText,22,16,274);
cap(waveText,8,989,173);
cap(wprText,8.5,1011,550);
const big=(t,xx,yy)=>svg.append("text").text(t).attr("x",xx).attr("y",yy).attr("fill","#ffff00").attr("font-family","'DejaVu Sans'").attr("font-weight",700).attr("font-size",22);
big("127.5",2001,119);
big("123.9",2011,307);
svg.append("text").text(noteText).attr("x",2000).attr("y",1028).attr("fill","#ffff00").attr("font-family","'Noto Sans CJK JP'").attr("font-weight",700).attr("font-size",22)
  .attr("textLength",435).attr("lengthAdjust","spacingAndGlyphs");
</script></body></html>
